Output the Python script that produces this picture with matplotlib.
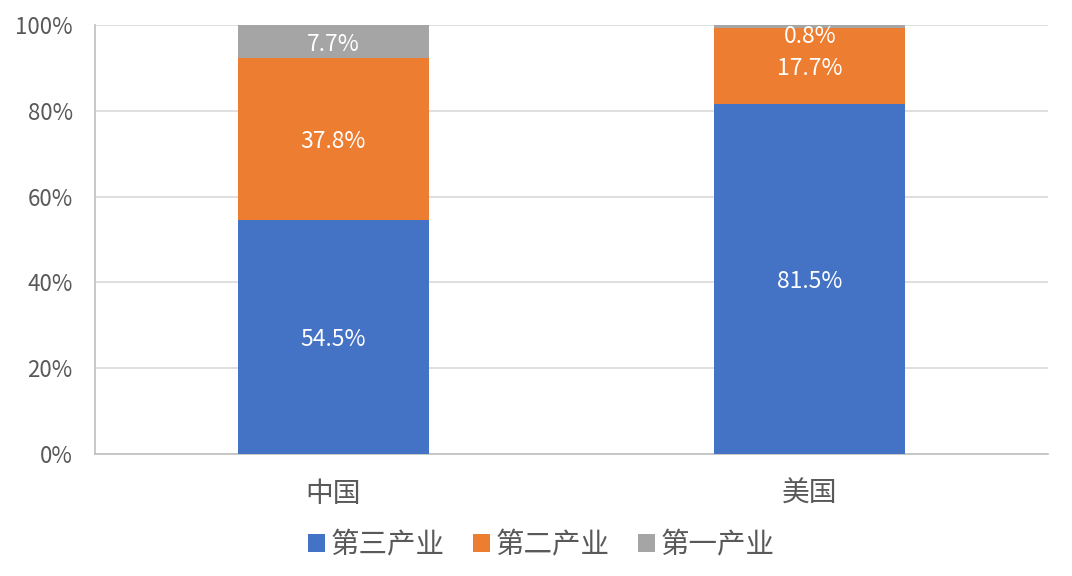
import matplotlib
matplotlib.use("Agg")
import matplotlib.pyplot as plt
import numpy as np

plt.rcParams["font.family"] = ["Noto Sans CJK SC", "DejaVu Sans"]

countries = ["中国", "美国"]
series_names = ["第三产业", "第二产业", "第一产业"]
tertiary = [54.5, 81.5]
secondary = [37.8, 17.7]
primary = [7.7, 0.8]
colors = ["#4472C4", "#ED7D31", "#A5A5A5"]

fig = plt.figure(figsize=(10.72, 5.76), dpi=100)
ax = fig.add_axes([0.0886, 0.2118, 0.8890, 0.7448])

x = np.arange(len(countries))
bottom = np.zeros(len(countries))
for name, vals, col in zip(series_names, [tertiary, secondary, primary], colors):
    vals = np.array(vals)
    ax.bar(x, vals, 0.4, bottom=bottom, color=col, label=name, zorder=3)
    for xi, b, v in zip(x, bottom, vals):
        yc = min(b + v / 2, 98.0)
        ax.text(xi, yc - 0.6, "{:.1f}%".format(v), ha="center", va="center",
                color="white", fontsize=16.5, zorder=4)
    bottom += vals

ax.set_xlim(-0.5, 1.5)
ax.set_ylim(0, 100)
ax.set_yticks(range(0, 101, 20))
ax.set_yticklabels(["{}%".format(v) for v in range(0, 101, 20)])
ax.set_xticks(x)
ax.set_xticklabels(countries)
ax.tick_params(axis="y", length=0, labelsize=16, labelcolor="#595959", pad=16)
ax.tick_params(axis="x", length=0, labelsize=20, labelcolor="#595959", pad=18)
ax.grid(axis="y", color="#D9D9D9", lw=1.2, zorder=0)
for s in ["top", "right"]:
    ax.spines[s].set_visible(False)
ax.spines["left"].set_color("#BFBFBF")
ax.spines["bottom"].set_color("#BFBFBF")
ax.spines["left"].set_linewidth(1.2)
ax.spines["bottom"].set_linewidth(1.2)

leg = fig.legend(loc="center", bbox_to_anchor=(0.505, 0.053), ncol=3,
                 frameon=False, fontsize=20.5, handlelength=0.6, handleheight=0.6,
                 handletextpad=0.2, columnspacing=1.0)
for t in leg.get_texts():
    t.set_color("#595959")

fig.savefig("out.png", dpi=100)
